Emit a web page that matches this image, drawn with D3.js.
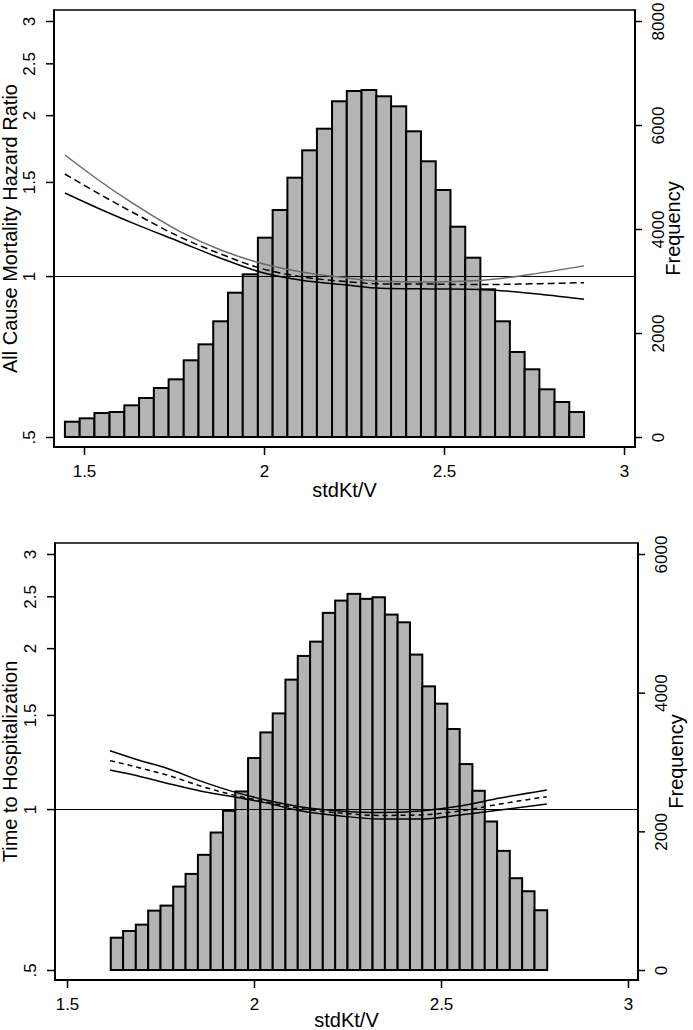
<!DOCTYPE html>
<html>
<head>
<meta charset="utf-8">
<script src="https://cdn.jsdelivr.net/npm/d3@7"></script>
<style>
  html, body { margin: 0; padding: 0; background: #fff; }
  svg { display: block; }
  text { font-family: "Liberation Sans", Arial, sans-serif; fill: #000; }
</style>
</head>
<body>
<svg id="chart" width="693" height="1030"></svg>
<script>
// ---------- shared axis data ----------
const xTicks = [1.5, 2, 2.5, 3];
const xTickLabels = ["1.5", "2", "2.5", "3"];
const hrTicks = [0.5, 1, 1.5, 2, 2.5, 3];
const hrTickLabels = [".5", "1", "1.5", "2", "2.5", "3"];
const xTitle = "stdKt/V";
const freqTitle = "Frequency";

// ---------- top panel: all cause mortality ----------
const topTitle = "All Cause Mortality Hazard Ratio";
const topFreqTicks = [0, 2000, 4000, 6000, 8000];
const topBinEdges = [1.447, 1.488, 1.529, 1.571, 1.612, 1.653, 1.694, 1.735, 1.777, 1.818,
  1.859, 1.900, 1.941, 1.983, 2.024, 2.065, 2.106, 2.147, 2.189, 2.230, 2.271, 2.312,
  2.353, 2.395, 2.436, 2.477, 2.518, 2.559, 2.601, 2.642, 2.683, 2.724, 2.765, 2.807,
  2.848, 2.889];
const topFreq = [294, 359, 461, 481, 609, 750, 942, 1109, 1475, 1782, 2225, 2775, 3129,
  3833, 4365, 4987, 5513, 5929, 6456, 6654, 6673, 6552, 6359, 5879, 5302, 4750, 4044,
  3448, 2840, 2225, 1635, 1302, 917, 673, 481];
const topCurveX = [1.447, 1.544, 1.636, 1.767, 1.878, 1.989, 2.1, 2.231, 2.322, 2.461, 2.6, 2.739, 2.889];
const topUpper = [1.685, 1.506, 1.367, 1.211, 1.120, 1.058, 1.019, 0.992, 0.978, 0.975, 0.981, 1.007, 1.045];
const topEstimate = [1.552, 1.422, 1.315, 1.183, 1.101, 1.035, 0.998, 0.976, 0.967, 0.966, 0.964, 0.967, 0.972];
const topLower = [1.430, 1.335, 1.256, 1.158, 1.081, 1.018, 0.983, 0.962, 0.949, 0.946, 0.944, 0.929, 0.905];

// ---------- bottom panel: time to hospitalization ----------
const botTitle = "Time to Hospitalization";
const botFreqTicks = [0, 2000, 4000, 6000];
const botBinEdges = [1.617, 1.650, 1.684, 1.717, 1.750, 1.784, 1.817, 1.850, 1.884, 1.917,
  1.950, 1.984, 2.017, 2.050, 2.084, 2.117, 2.150, 2.184, 2.217, 2.250, 2.284, 2.317,
  2.350, 2.384, 2.417, 2.450, 2.484, 2.517, 2.550, 2.584, 2.617, 2.650, 2.684, 2.717,
  2.750, 2.784];
const botFreq = [466, 563, 654, 856, 929, 1203, 1386, 1661, 1983, 2296, 2575, 3057, 3427,
  3701, 4188, 4530, 4736, 5151, 5328, 5425, 5353, 5376, 5126, 5015, 4549, 4091, 3841,
  3476, 2970, 2585, 2142, 1718, 1324, 1136, 862];
const botCurveX = [1.615, 1.695, 1.767, 1.856, 1.944, 2.032, 2.123, 2.230, 2.337, 2.444, 2.551, 2.658, 2.783];
const botUpper = [1.286, 1.233, 1.192, 1.129, 1.078, 1.040, 1.010, 0.992, 0.985, 0.992, 1.013, 1.049, 1.086];
const botEstimate = [1.232, 1.194, 1.158, 1.105, 1.063, 1.031, 1.003, 0.983, 0.973, 0.975, 0.992, 1.022, 1.055];
const botLower = [1.183, 1.151, 1.118, 1.081, 1.055, 1.027, 0.993, 0.971, 0.958, 0.958, 0.975, 0.996, 1.022];

const svg = d3.select("#chart");

function drawPanel(cfg) {
  const g = svg.append("g");
  const { left, right, top, bottom } = cfg.frame;

  const x = d3.scaleLinear().domain([1.5, 3]).range([cfg.x15, cfg.x3]);
  const y = d3.scaleLog().domain([0.5, 3]).range([cfg.yLow, cfg.yHigh]);
  const yf = d3.scaleLinear().domain([0, cfg.freqMax]).range([cfg.yLow, cfg.yHigh]);

  // histogram bars
  const bins = cfg.freq.map((f, i) => ({ x0: cfg.edges[i], x1: cfg.edges[i + 1], f }));
  g.append("g").selectAll("rect").data(bins).join("rect")
    .attr("x", d => x(d.x0))
    .attr("y", d => yf(d.f))
    .attr("width", d => x(d.x1) - x(d.x0))
    .attr("height", d => yf(0) - yf(d.f))
    .attr("fill", "#b4b4b4")
    .attr("stroke", "#000")
    .attr("stroke-width", 2);

  // reference line HR = 1
  const y1 = Math.round(y(1)) + 0.5;
  g.append("line")
    .attr("x1", left).attr("x2", right)
    .attr("y1", y1).attr("y2", y1)
    .attr("stroke", "#000").attr("stroke-width", 1.2)
    .attr("shape-rendering", "crispEdges");

  // curves
  const line = d3.line().x(d => x(d[0])).y(d => y(d[1])).curve(d3.curveMonotoneX);
  const series = [
    { v: cfg.upper, color: cfg.upperColor, dash: null, w: 1.5 },
    { v: cfg.lower, color: "#000", dash: null, w: 1.5 },
    { v: cfg.estimate, color: "#000", dash: cfg.dash, w: 1.5 }
  ];
  series.forEach(s => {
    g.append("path")
      .datum(cfg.curveX.map((cx, i) => [cx, s.v[i]]))
      .attr("d", line)
      .attr("fill", "none")
      .attr("stroke", s.color)
      .attr("stroke-width", s.w)
      .attr("stroke-dasharray", s.dash);
  });

  // frame
  g.append("line").attr("x1", left).attr("x2", right).attr("y1", top).attr("y2", top)
    .attr("stroke", "#000").attr("stroke-width", 1.5);
  g.append("line").attr("x1", left).attr("x2", left).attr("y1", top - 0.75).attr("y2", bottom + 1)
    .attr("stroke", "#000").attr("stroke-width", 2);
  g.append("line").attr("x1", right).attr("x2", right).attr("y1", top - 0.75).attr("y2", bottom + 1)
    .attr("stroke", "#000").attr("stroke-width", 2);
  g.append("line").attr("x1", left).attr("x2", right + 1).attr("y1", bottom).attr("y2", bottom)
    .attr("stroke", "#000").attr("stroke-width", 2);

  // left axis (hazard ratio, log scale)
  const la = g.append("g").attr("transform", `translate(${left},0)`)
    .call(d3.axisLeft(y).tickValues(hrTicks)
      .tickFormat((d, i) => hrTickLabels[i]).tickSize(8).tickSizeOuter(0));
  la.select(".domain").remove();
  la.selectAll(".tick line").attr("stroke", "#000").attr("stroke-width", 1.5);
  la.selectAll(".tick text")
    .attr("x", null).attr("dy", null)
    .attr("text-anchor", "middle")
    .attr("transform", `translate(${cfg.leftLabelX - left},0) rotate(-90)`)
    .style("font-size", "17px")
    .style("font-family", "'Liberation Sans', Arial, sans-serif");

  // right axis (frequency)
  const ra = g.append("g").attr("transform", `translate(${right},0)`)
    .call(d3.axisRight(yf).tickValues(cfg.freqTicks)
      .tickFormat(d3.format("d")).tickSize(7).tickSizeOuter(0));
  ra.select(".domain").remove();
  ra.selectAll(".tick line").attr("stroke", "#000").attr("stroke-width", 1.5);
  ra.selectAll(".tick text")
    .attr("x", null).attr("dy", null)
    .attr("text-anchor", "middle")
    .attr("transform", `translate(${cfg.rightLabelX - right},0) rotate(-90)`)
    .style("font-size", "17px")
    .style("font-family", "'Liberation Sans', Arial, sans-serif");

  // bottom axis
  const ba = g.append("g").attr("transform", `translate(0,${bottom})`)
    .call(d3.axisBottom(x).tickValues(xTicks)
      .tickFormat((d, i) => xTickLabels[i]).tickSize(8).tickSizeOuter(0));
  ba.select(".domain").remove();
  ba.selectAll(".tick line").attr("stroke", "#000").attr("stroke-width", 1.5);
  ba.selectAll(".tick text")
    .attr("y", cfg.xLabelY - bottom).attr("dy", null)
    .attr("text-anchor", "middle")
    .style("font-size", "17px")
    .style("font-family", "'Liberation Sans', Arial, sans-serif");

  // titles
  const midY = (top + bottom) / 2;
  g.append("text")
    .attr("transform", `translate(${cfg.leftTitleX},${midY}) rotate(-90)`)
    .attr("text-anchor", "middle").style("font-size", "20px")
    .text(cfg.title);
  g.append("text")
    .attr("transform", `translate(${cfg.rightTitleX},${midY}) rotate(-90)`)
    .attr("text-anchor", "middle").style("font-size", "20px")
    .text(freqTitle);
  g.append("text")
    .attr("x", (left + right) / 2).attr("y", cfg.xTitleY)
    .attr("text-anchor", "middle").style("font-size", "20px")
    .text(xTitle);
}

drawPanel({
  frame: { left: 54, right: 635, top: 10, bottom: 447 },
  x15: 84, x3: 624, yLow: 437, yHigh: 21,
  freqMax: 8000, freqTicks: topFreqTicks,
  edges: topBinEdges, freq: topFreq,
  curveX: topCurveX, upper: topUpper, estimate: topEstimate, lower: topLower,
  upperColor: "#6a6a6a", dash: "7,4",
  leftLabelX: 35, rightLabelX: 664, xLabelY: 477,
  leftTitleX: 17, rightTitleX: 680, xTitleY: 497,
  title: topTitle
});

drawPanel({
  frame: { left: 55, right: 638, top: 543, bottom: 980 },
  x15: 67, x3: 628, yLow: 970, yHigh: 554,
  freqMax: 6000, freqTicks: botFreqTicks,
  edges: botBinEdges, freq: botFreq,
  curveX: botCurveX, upper: botUpper, estimate: botEstimate, lower: botLower,
  upperColor: "#000", dash: "5,4",
  leftLabelX: 36, rightLabelX: 667, xLabelY: 1010,
  leftTitleX: 17, rightTitleX: 683, xTitleY: 1027,
  title: botTitle
});
</script>
</body>
</html>
